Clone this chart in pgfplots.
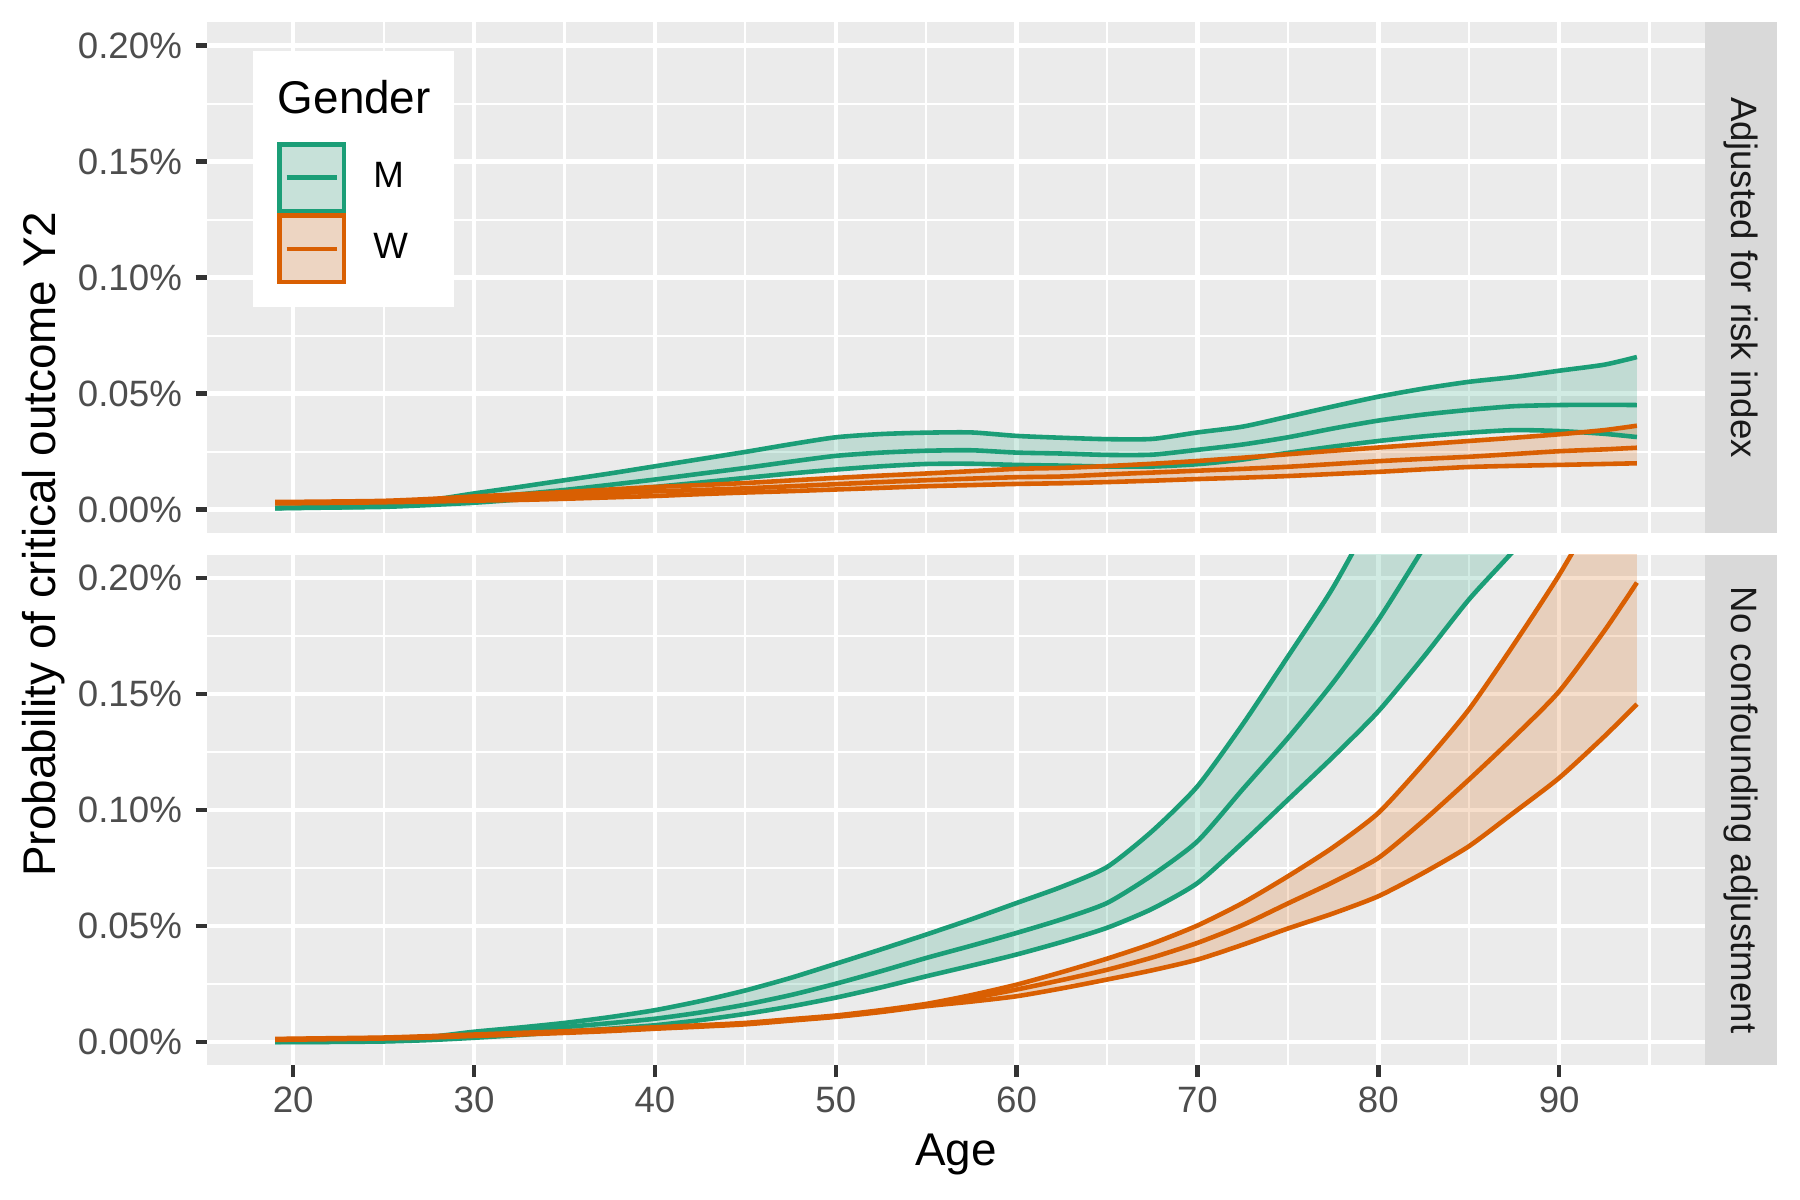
\documentclass[border=0pt]{standalone}
\usepackage{pgfplots}
\pgfplotsset{compat=1.18}
\usepackage{pgfplotstable}
\usepgfplotslibrary{fillbetween}
\usepackage{fontspec}
\setmainfont{Liberation Sans}

\definecolor{mgreen}{HTML}{1B9E77}
\definecolor{worange}{HTML}{D95F02}
\definecolor{panelbg}{HTML}{EBEBEB}
\definecolor{stripbg}{HTML}{D9D9D9}
\definecolor{grey30}{HTML}{4D4D4D}
\definecolor{grey20}{HTML}{333333}
\definecolor{grey10}{HTML}{1A1A1A}
\definecolor{mkey}{HTML}{C7E1D9}
\definecolor{wkey}{HTML}{EDD5C2}

% adjusted for risk index (values in %)
\pgfplotstableread{
age   mlo     mmid    mhi     wlo     wmid    whi
19    0.0006  0.0007  0.0008  0.0027  0.0030  0.0033
22    0.0009  0.0010  0.0011  0.0029  0.0032  0.0035
25    0.0012  0.0015  0.0018  0.0032  0.0035  0.0038
27.5  0.0020  0.0028  0.0040  0.0035  0.0040  0.0046
30    0.0030  0.0048  0.0070  0.0039  0.0047  0.0057
32.5  0.0044  0.0066  0.0098  0.0042  0.0053  0.0066
35    0.0059  0.0085  0.0127  0.0047  0.0061  0.0076
37.5  0.0078  0.0107  0.0156  0.0053  0.0070  0.0087
40    0.0098  0.0130  0.0187  0.0059  0.0079  0.0098
42.5  0.0117  0.0155  0.0218  0.0067  0.0085  0.0106
45    0.0137  0.0180  0.0249  0.0074  0.0092  0.0115
47.5  0.0156  0.0207  0.0282  0.0080  0.0101  0.0126
50    0.0173  0.0232  0.0312  0.0087  0.0110  0.0137
52.5  0.0187  0.0246  0.0326  0.0094  0.0119  0.0147
55    0.0197  0.0254  0.0332  0.0101  0.0127  0.0156
57.5  0.0198  0.0256  0.0333  0.0106  0.0134  0.0166
60    0.0193  0.0246  0.0318  0.0111  0.0140  0.0176
62.5  0.0190  0.0242  0.0310  0.0114  0.0143  0.0180
65    0.0186  0.0236  0.0304  0.0119  0.0152  0.0188
67.5  0.0186  0.0237  0.0305  0.0125  0.0160  0.0198
70    0.0196  0.0258  0.0333  0.0132  0.0168  0.0210
72.5  0.0216  0.0281  0.0358  0.0138  0.0176  0.0224
75    0.0245  0.0312  0.0401  0.0145  0.0185  0.0239
77.5  0.0272  0.0350  0.0445  0.0154  0.0197  0.0254
80    0.0296  0.0384  0.0487  0.0163  0.0209  0.0268
82.5  0.0316  0.0410  0.0522  0.0174  0.0219  0.0282
85    0.0332  0.0430  0.0551  0.0184  0.0228  0.0296
87.5  0.0343  0.0446  0.0572  0.0189  0.0240  0.0310
90    0.0339  0.0451  0.0599  0.0193  0.0252  0.0325
92.5  0.0327  0.0452  0.0625  0.0197  0.0260  0.0343
94.3  0.0313  0.0451  0.0658  0.0200  0.0267  0.0362
}\adjdata

% no confounding adjustment (values in %)
\pgfplotstableread{
age   mlo     mmid    mhi     wlo     wmid    whi
19    0.0000  0.0001  0.0002  0.0010  0.0012  0.0014
22    0.0001  0.0002  0.0003  0.0013  0.0015  0.0017
25    0.0003  0.0005  0.0007  0.0016  0.0018  0.0020
27.5  0.0009  0.0014  0.0022  0.0020  0.0023  0.0026
30    0.0019  0.0030  0.0045  0.0027  0.0030  0.0033
32.5  0.0031  0.0046  0.0063  0.0033  0.0036  0.0040
35    0.0045  0.0065  0.0083  0.0040  0.0043  0.0047
37.5  0.0058  0.0082  0.0108  0.0048  0.0052  0.0056
40    0.0073  0.0101  0.0138  0.0058  0.0061  0.0064
42.5  0.0095  0.0128  0.0177  0.0067  0.0070  0.0073
45    0.0122  0.0162  0.0223  0.0077  0.0080  0.0083
47.5  0.0154  0.0203  0.0277  0.0093  0.0096  0.0099
50    0.0192  0.0252  0.0338  0.0109  0.0112  0.0115
52.5  0.0236  0.0306  0.0400  0.0130  0.0134  0.0138
55    0.0284  0.0363  0.0464  0.0155  0.0160  0.0165
57.5  0.0330  0.0416  0.0530  0.0175  0.0190  0.0203
60    0.0378  0.0471  0.0600  0.0198  0.0227  0.0248
62.5  0.0432  0.0530  0.0670  0.0232  0.0268  0.0302
65    0.0493  0.0600  0.0755  0.0270  0.0312  0.0360
67.5  0.0575  0.0720  0.0910  0.0310  0.0365  0.0425
70    0.0686  0.0866  0.1103  0.0356  0.0428  0.0503
72.5  0.0860  0.1090  0.1370  0.0420  0.0505  0.0600
75    0.1045  0.1311  0.1662  0.0490  0.0598  0.0715
77.5  0.1230  0.1550  0.1960  0.0555  0.0690  0.0840
80    0.1426  0.1820  0.2320  0.0629  0.0794  0.0988
82.5  0.1660  0.2130  0.2750  0.0730  0.0955  0.1200
85    0.1907  0.2450  0.3200  0.0844  0.1131  0.1433
87.5  0.2120  0.2800  0.3700  0.0990  0.1315  0.1715
90    0.2350  0.3200  0.4300  0.1139  0.1512  0.2014
92.5  0.2600  0.3650  0.5000  0.1318  0.1773  0.2350
94.3  0.2800  0.4000  0.5500  0.1457  0.1981  0.2600
}\rawdata

\pgfplotsset{
  facet/.style={
    scale only axis, width=359.5pt, height=122.5pt,
    xmin=15.235, xmax=98.065, ymin=-0.01, ymax=0.21,
    axis background/.style={fill=panelbg},
    axis line style={draw=none},
    grid=both,
    major grid style={white, line width=1.07pt},
    minor grid style={white, line width=0.53pt},
    xtick={20,30,...,90}, minor xtick={25,35,...,95},
    ytick={0,0.05,0.1,0.15,0.2}, minor ytick={0.025,0.075,0.125,0.175},
    yticklabels={0.00\%,0.05\%,0.10\%,0.15\%,0.20\%},
    tick align=outside, major tick length=2.75pt, minor tick length=0pt,
    tick style={grey20, line width=1.07pt},
    tick pos=left,
    tick label style={font=\fontsize{8.8}{10}\selectfont, text=grey30, inner sep=0pt},
    xticklabel shift=2.2pt, yticklabel shift=3.1pt,
    /pgf/number format/assume math mode=true,
  },
  band/.style={draw=none, fill=#1, fill opacity=0.2, forget plot, smooth, tension=0.4},
  curve/.style={#1, line width=1.1pt, forget plot, smooth, tension=0.4},
  hidden/.style={draw=none, forget plot, smooth, tension=0.4},
}

\begin{document}
\begin{tikzpicture}
\path (0,0) rectangle (432pt,288pt);

% top facet: adjusted for risk index
\begin{axis}[facet, at={(49.7pt,160.1pt)}, anchor=south west,
  xticklabels={}, xtick style={draw=none},
  legend style={at={(axis description cs:0.0467,0.7657)}, anchor=north west,
    draw=none, fill=none, inner sep=0pt, outer sep=0pt, row sep=0pt, column sep=6.5pt,
    font=\fontsize{8.8}{10}\selectfont, nodes={inner sep=0pt}},
  legend cell align=left]
\addplot[hidden, name path=amlo] table[x=age,y=mlo]{\adjdata};
\addplot[hidden, name path=amhi] table[x=age,y=mhi]{\adjdata};
\addplot[band=mgreen] fill between[of=amlo and amhi];
\addplot[curve=mgreen] table[x=age,y=mlo]{\adjdata};
\addplot[curve=mgreen] table[x=age,y=mhi]{\adjdata};
\addplot[curve=mgreen] table[x=age,y=mmid]{\adjdata};
\addplot[hidden, name path=awlo] table[x=age,y=wlo]{\adjdata};
\addplot[hidden, name path=awhi] table[x=age,y=whi]{\adjdata};
\addplot[band=worange] fill between[of=awlo and awhi];
\addplot[curve=worange] table[x=age,y=wlo]{\adjdata};
\addplot[curve=worange] table[x=age,y=whi]{\adjdata};
\addplot[curve=worange] table[x=age,y=wmid]{\adjdata};
% legend background and title
\fill[white] (rel axis cs:0.0306,0.4425) rectangle (rel axis cs:0.1650,0.9445);
\node[anchor=base west, inner sep=0pt, font=\fontsize{11}{13}\selectfont]
  at (rel axis cs:0.0467,0.822) {Gender};
\addlegendimage{legend image code/.code={
  \draw[draw=mgreen, fill=mkey, line width=1.07pt] (0.54pt,-8.0pt) rectangle (16.1pt,8.0pt);
  \draw[mgreen, line width=1.07pt] (2.3pt,0pt) -- (14.3pt,0pt);}}
\addlegendentry{M}
\addlegendimage{legend image code/.code={
  \draw[draw=worange, fill=wkey, line width=1.07pt] (0.54pt,-8.0pt) rectangle (16.1pt,8.0pt);
  \draw[worange, line width=1.07pt] (2.3pt,0pt) -- (14.3pt,0pt);}}
\addlegendentry{W}
\end{axis}

% bottom facet: no confounding adjustment
\begin{axis}[facet, at={(49.7pt,32.3pt)}, anchor=south west,
  xlabel={Age}, xlabel style={font=\fontsize{11}{13}\selectfont, text=black, yshift=-1.6pt}]
\addplot[hidden, name path=rmlo] table[x=age,y=mlo]{\rawdata};
\addplot[hidden, name path=rmhi] table[x=age,y=mhi]{\rawdata};
\addplot[band=mgreen] fill between[of=rmlo and rmhi];
\addplot[curve=mgreen] table[x=age,y=mlo]{\rawdata};
\addplot[curve=mgreen] table[x=age,y=mhi]{\rawdata};
\addplot[curve=mgreen] table[x=age,y=mmid]{\rawdata};
\addplot[hidden, name path=rwlo] table[x=age,y=wlo]{\rawdata};
\addplot[hidden, name path=rwhi] table[x=age,y=whi]{\rawdata};
\addplot[band=worange] fill between[of=rwlo and rwhi];
\addplot[curve=worange] table[x=age,y=wlo]{\rawdata};
\addplot[curve=worange] table[x=age,y=whi]{\rawdata};
\addplot[curve=worange] table[x=age,y=wmid]{\rawdata};
\end{axis}

% facet strips
\fill[stripbg] (409.2pt,160.1pt) rectangle (426.5pt,282.6pt);
\fill[stripbg] (409.2pt,32.3pt) rectangle (426.5pt,154.8pt);
\node[rotate=-90, text=grey10, font=\fontsize{8.8}{10}\selectfont] at (417.85pt,221.35pt) {Adjusted for risk index};
\node[rotate=-90, text=grey10, font=\fontsize{8.8}{10}\selectfont] at (417.85pt,93.55pt) {No confounding adjustment};

% shared y title
\node[rotate=90, font=\fontsize{11}{13}\selectfont] at (10.4pt,157.4pt) {Probability of critical outcome Y2};
\end{tikzpicture}
\end{document}
